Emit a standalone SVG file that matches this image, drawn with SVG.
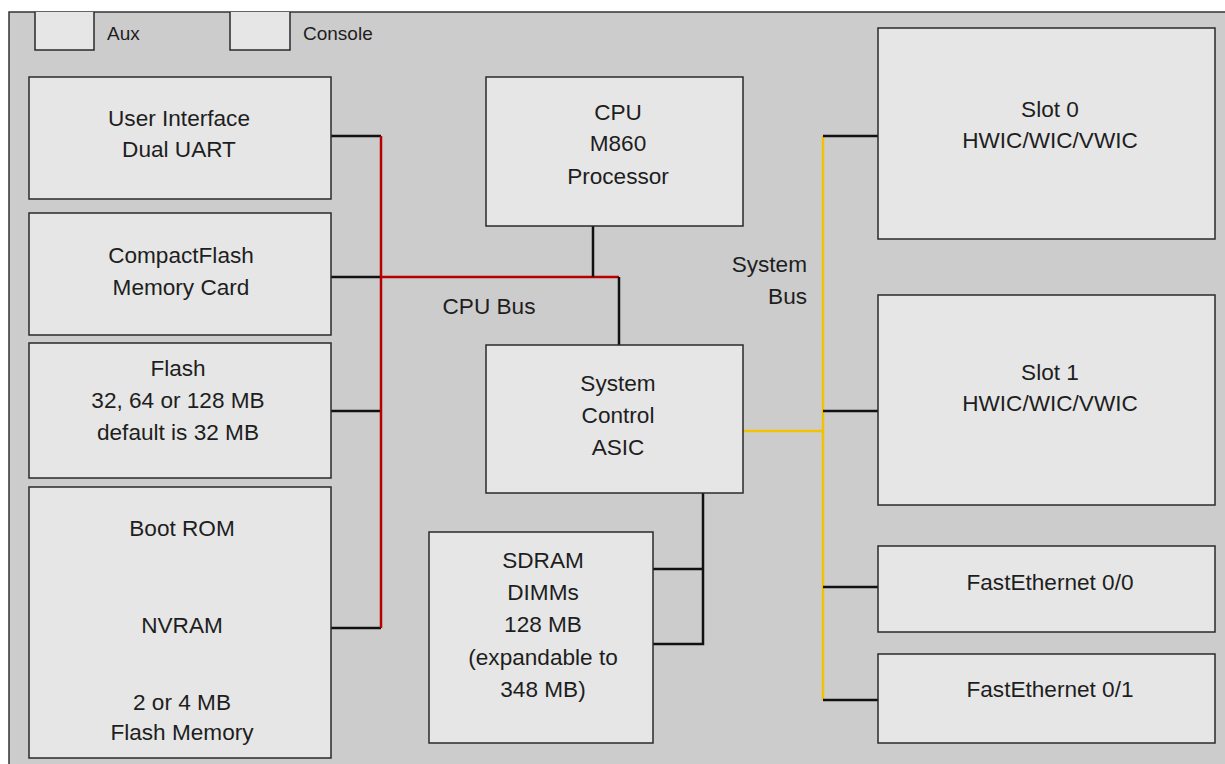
<svg xmlns="http://www.w3.org/2000/svg" width="1225" height="764" viewBox="0 0 1225 764">
<style>
.frame{fill:#cccccc;stroke:#333;stroke-width:1.5}
.box{fill:#e6e6e6;stroke:#2a2a2a;stroke-width:1.5}
text{font-family:"Liberation Sans",Arial,sans-serif;font-size:22.6px;fill:#1e1e1e;text-anchor:middle}
.sm{font-size:19px;text-anchor:start}
.blk{stroke:#111;stroke-width:2.5;fill:none}
.red{stroke:#b80000;stroke-width:2.5;fill:none}
.yel{stroke:#f2c200;stroke-width:2.5;fill:none}
</style>
<rect x="0" y="0" width="1225" height="764" fill="#ffffff"/>
<rect class="frame" x="9" y="12" width="1230" height="770"/>
<g id="aux"><path class="box" d="M35 12 V50 H94 V12"/><text class="sm" x="107" y="40">Aux</text></g>
<g id="console"><path class="box" d="M230 12 V50 H290 V12"/><text class="sm" x="303" y="40">Console</text></g>
<g id="connectors">
<path class="blk" d="M331 136 H381 M331 277 H381 M331 411 H381 M331 628 H381"/>
<path class="red" d="M381 136 V628 M381 277 H619"/>
<path class="blk" d="M593 226 V277 M619 277 V345"/>
<path class="blk" d="M703 493 V644 H653 M703 569 H653"/>
<path class="yel" d="M743 431 H823 M823 136 V700"/>
<path class="blk" d="M823 136 H878 M823 411 H878 M823 587 H878 M823 700 H878"/>
</g>
<g id="ui"><rect class="box" x="29" y="77" width="302" height="122"/><text x="179" y="126">User Interface</text><text x="179" y="157">Dual UART</text></g>
<g id="cf"><rect class="box" x="29" y="213" width="302" height="122"/><text x="181" y="263">CompactFlash</text><text x="181" y="295">Memory Card</text></g>
<g id="flash"><rect class="box" x="29" y="343" width="302" height="135"/><text x="178" y="376">Flash</text><text x="178" y="408">32, 64 or 128 MB</text><text x="178" y="440">default is 32 MB</text></g>
<g id="bootrom"><rect class="box" x="29" y="487" width="302" height="271"/><text x="182" y="536">Boot ROM</text><text x="182" y="633">NVRAM</text><text x="182" y="710">2 or 4 MB</text><text x="182" y="740">Flash Memory</text></g>
<g id="cpu"><rect class="box" x="486" y="77" width="257" height="149"/><text x="618" y="120">CPU</text><text x="618" y="151">M860</text><text x="618" y="184">Processor</text></g>
<g id="asic"><rect class="box" x="486" y="345" width="257" height="148"/><text x="618" y="391">System</text><text x="618" y="423">Control</text><text x="618" y="455">ASIC</text></g>
<g id="sdram"><rect class="box" x="429" y="532" width="224" height="211"/><text x="543" y="568">SDRAM</text><text x="543" y="600">DIMMs</text><text x="543" y="632">128 MB</text><text x="543" y="665">(expandable to</text><text x="543" y="697">348 MB)</text></g>
<g id="slot0"><rect class="box" x="878" y="28" width="337" height="211"/><text x="1050" y="117">Slot 0</text><text x="1050" y="148">HWIC/WIC/VWIC</text></g>
<g id="slot1"><rect class="box" x="878" y="295" width="337" height="210"/><text x="1050" y="380">Slot 1</text><text x="1050" y="411">HWIC/WIC/VWIC</text></g>
<g id="fe00"><rect class="box" x="878" y="546" width="337" height="86"/><text x="1050" y="590">FastEthernet 0/0</text></g>
<g id="fe01"><rect class="box" x="878" y="654" width="337" height="89"/><text x="1050" y="697">FastEthernet 0/1</text></g>
<g id="labels"><text x="489" y="314">CPU Bus</text><text x="807" y="272" style="text-anchor:end">System</text><text x="807" y="304" style="text-anchor:end">Bus</text></g>
</svg>
